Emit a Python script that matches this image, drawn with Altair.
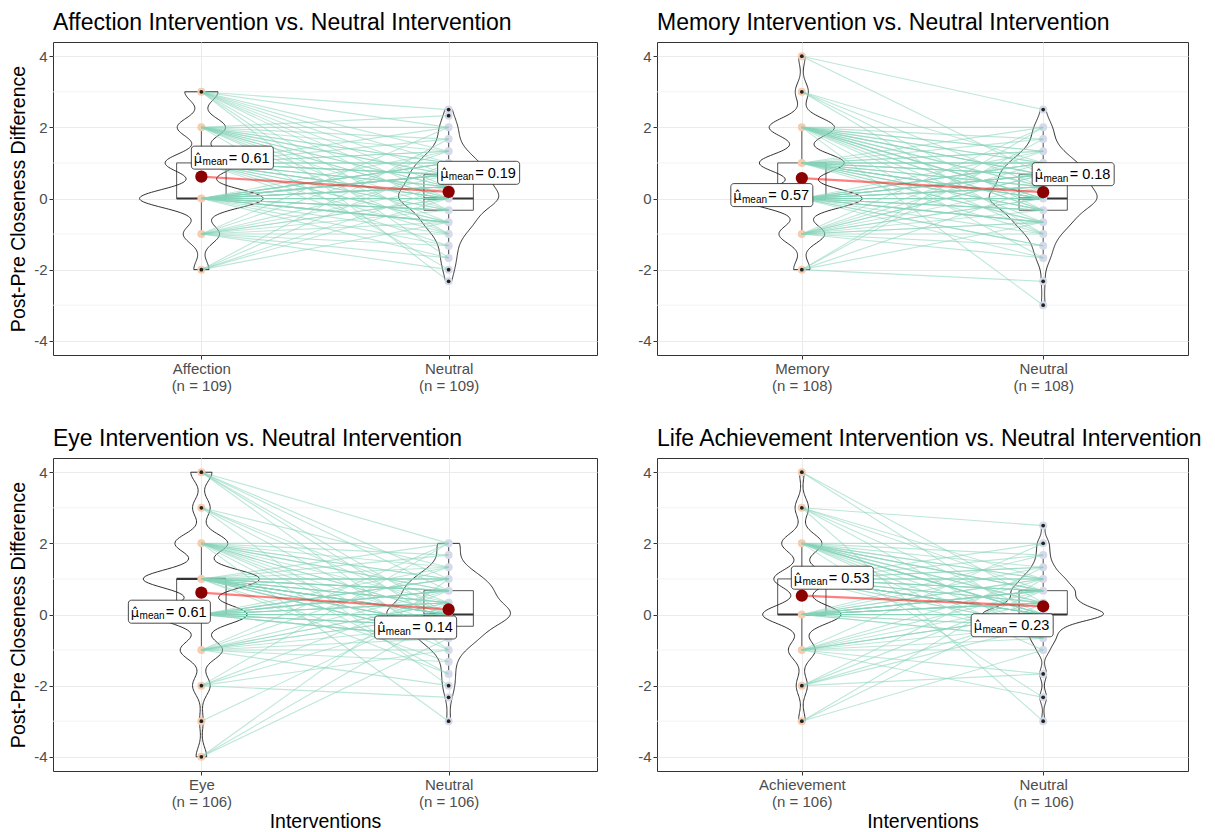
import altair as alt
import pandas as pd

FONT = "Liberation Sans"

titles = [
    "Affection Intervention vs. Neutral Intervention",
    "Memory Intervention vs. Neutral Intervention",
    "Eye Intervention vs. Neutral Intervention",
    "Life Achievement Intervention vs. Neutral Intervention",
]
categories = ["Affection", "Memory", "Eye", "Achievement"]
control_name = "Neutral"
n_subjects = [109, 108, 106, 106]
y_title = "Post-Pre Closeness Difference"
x_title = "Interventions"
y_ticks = [-4, -2, 0, 2, 4]
y_minor = [-3, -1, 1, 3]

# ---- Panel 1: Affection vs Neutral (paired, same subject order) ----
affection = [
    3, 3, 3, 3, 3, 3, 3, 3, 3, 3, 3,
    2, 2, 2, 2, 2, 2, 2, 2, 2, 2, 2, 2, 2, 2, 2, 2,
    1, 1, 1, 1, 1, 1, 1, 1, 1, 1, 1, 1, 1, 1, 1, 1, 1, 1, 1, 1, 1, 1, 1, 1,
    0, 0, 0, 0, 0, 0, 0, 0, 0, 0, 0, 0, 0, 0, 0, 0, 0, 0, 0, 0,
    0, 0, 0, 0, 0, 0, 0, 0, 0, 0, 0, 0, 0, 0, 0, 0, 0, 0, 0, 0, 0,
    -1, -1, -1, -1, -1, -1, -1, -1, -1, -1, -1, -1,
    -2, -2, -2, -2, -2,
]
affection_neutral = [
    2.5, 2, 1.33, 1, 0.67, 0.33, 0, -0.33, -1, -1.67, -2.33,
    2.33, 2, 1.67, 1.33, 1, 1, 0.67, 0.67, 0.33, 0.33, 0, 0, -0.33, -0.67, -1, -2,
    2, 1.67, 1.33, 1.33, 1, 1, 1, 0.67, 0.67, 0.67, 0.67, 0.33, 0.33, 0.33, 0, 0, 0, 0,
    -0.33, -0.33, -0.67, -0.67, -1, -1.33,
    1.33, 1, 1, 1, 1, 0.67, 0.67, 0.67, 0.67, 0.67, 0.67, 0.33, 0.33, 0.33, 0.33, 0.33, 0.33,
    0, 0, 0, 0, 0, 0, 0, 0, 0, 0, 0, -0.33, -0.33, -0.33, -0.33, -0.33,
    -0.67, -0.67, -0.67, -0.67, -0.67, -1, -1.33, -1.67,
    2, 1.33, 0.67, 0.33, 0, 0, -0.33, -0.67, -1, -1.33, -1.67, -2,
    1.67, 1, 0.33, 0, -0.67,
]

# ---- Panel 2: Memory vs Neutral ----
memory = [
    4, 4,
    3, 3, 3, 3,
    2, 2, 2, 2, 2, 2, 2, 2, 2, 2, 2, 2, 2, 2, 2, 2, 2, 2, 2, 2,
    1, 1, 1, 1, 1, 1, 1, 1, 1, 1, 1, 1, 1, 1, 1, 1, 1, 1, 1, 1, 1, 1, 1, 1, 1, 1,
    0, 0, 0, 0, 0, 0, 0, 0, 0, 0, 0, 0, 0, 0, 0, 0, 0, 0, 0, 0,
    0, 0, 0, 0, 0, 0, 0, 0, 0, 0, 0, 0, 0, 0, 0, 0, 0,
    -1, -1, -1, -1, -1, -1, -1, -1, -1, -1, -1, -1, -1, -1,
    -2, -2, -2, -2, -2,
]
memory_neutral = [
    2.5, 0.67,
    1, 0.33, -0.33, -1,
    2, 1.67, 1.33, 1.33, 1, 1, 0.67, 0.67, 0.67, 0.33, 0.33, 0, 0, 0, -0.33, -0.33, -0.67, -1, -1.67, -3,
    2, 1.67, 1.33, 1.33, 1, 1, 1, 1, 0.67, 0.67, 0.67, 0.67, 0.33, 0.33, 0.33, 0, 0, 0, 0, 0,
    -0.33, -0.33, -0.33, -0.67, -0.67, -1,
    1.33, 1, 1, 1, 0.67, 0.67, 0.67, 0.67, 0.67, 0.33, 0.33, 0.33, 0.33, 0.33,
    0, 0, 0, 0, 0, 0, 0, 0, 0, 0, 0, -0.33, -0.33, -0.33, -0.33, -0.67, -0.67, -0.67, -0.67,
    -1, -1.33, -1.33, -1.67,
    2, 1.33, 1, 0.67, 0.67, 0.33, 0, 0, -0.33, -0.67, -0.67, -1, -1.33, -1.67,
    2, 1.67, 0.33, -0.67, -2.33,
]

# ---- Panel 3: Eye vs Neutral ----
eye = [
    4, 4, 4, 4, 4, 4,
    3, 3, 3, 3, 3,
    2, 2, 2, 2, 2, 2, 2, 2, 2, 2, 2, 2, 2, 2, 2,
    1, 1, 1, 1, 1, 1, 1, 1, 1, 1, 1, 1, 1, 1, 1, 1, 1, 1, 1, 1,
    1, 1, 1, 1, 1, 1, 1, 1, 1, 1, 1, 1, 1,
    0, 0, 0, 0, 0, 0, 0, 0, 0, 0, 0, 0, 0, 0, 0, 0, 0, 0, 0, 0, 0, 0, 0, 0, 0, 0,
    -1, -1, -1, -1, -1, -1, -1, -1, -1, -1, -1, -1,
    -2, -2, -2, -2, -2,
    -3,
    -4, -4, -4,
]
eye_neutral = [
    2, 1, 0.67, 0, -0.33, -1,
    1.33, 0.33, 0, -0.67, -2,
    2, 1.67, 1.33, 1, 1, 0.67, 0.67, 0.33, 0, 0, -0.33, -0.67, -1, -1.67, -3,
    2, 1.67, 1.33, 1, 1, 1, 1, 0.67, 0.67, 0.67, 0.67, 0.67, 0.33, 0.33, 0.33, 0.33,
    0, 0, 0, 0, 0, 0, 0, 0, -0.33, -0.33, -0.33, -0.33, -0.67, -0.67, -0.67, -1.33, -1.67,
    1.33, 1, 1, 1, 0.67, 0.67, 0.67, 0.67, 0.33, 0.33, 0.33, 0.33,
    0, 0, 0, 0, 0, 0, 0, -0.33, -0.33, -0.33, -0.33, -0.67, -0.67, -0.67,
    2, 1.33, 0.67, 0.33, 0.33, 0, 0, -0.33, -0.67, -1, -1.33, -2,
    2, 0.67, 0, -1, -2.33,
    0.33,
    1, 0, -0.67,
]

# ---- Panel 4: Life Achievement vs Neutral ----
achievement = [
    4, 4,
    3, 3, 3, 3, 3, 3,
    2, 2, 2, 2, 2, 2, 2, 2, 2, 2, 2, 2, 2, 2, 2, 2, 2, 2,
    1, 1, 1, 1, 1, 1, 1, 1, 1, 1, 1, 1, 1, 1, 1, 1, 1, 1, 1, 1, 1, 1, 1, 1, 1,
    0, 0, 0, 0, 0, 0, 0, 0, 0, 0, 0, 0, 0, 0, 0, 0, 0, 0, 0, 0,
    0, 0, 0, 0, 0, 0, 0, 0, 0, 0, 0, 0, 0, 0, 0,
    -1, -1, -1, -1, -1, -1, -1, -1, -1, -1, -1, -1,
    -2, -2, -2, -2, -2,
    -3, -3, -3,
]
achievement_neutral = [
    0.33, -0.33,
    2.5, 1, 0.67, 0, -0.67, -3,
    2, 1.67, 1.33, 1, 1, 0.67, 0.67, 0.67, 0.33, 0.33, 0, 0, 0, 0, -0.33, -0.67, -1, -2.33,
    2, 1.67, 1.33, 1.33, 1, 1, 1, 0.67, 0.67, 0.67, 0.67, 0.33, 0.33, 0.33,
    0, 0, 0, 0, 0, 0, 0, 0, -0.33, -0.33, -0.67,
    1.67, 1.33, 1, 1, 0.67, 0.67, 0.67, 0.67, 0.67, 0.33, 0.33, 0.33, 0.33, 0.33, 0.33, 0.33,
    0, 0, 0, 0, 0, 0, 0, 0, 0, 0, 0, 0, 0, 0, 0, -0.33, -0.33, -0.67, -0.67,
    2, 1, 0.67, 0.33, 0, 0, 0, -0.33, -0.67, -1, -1.67, -2.33,
    1.33, 0.67, 0, -0.33, -1.67,
    1, 0.33, -1,
]

interventions = [affection, memory, eye, achievement]
neutrals = [affection_neutral, memory_neutral, eye_neutral, achievement_neutral]
for a, b, n in zip(interventions, neutrals, n_subjects):
    assert len(a) == len(b) == n, (len(a), len(b), n)

# label placements (pixel offsets of label centre from its mean point)
label_offsets = [
    [(31, -19), (30, -19)],
    [(-30, 17), (30, -18)],
    [(-32, 19), (-33, 18)],
    [(30.5, -18), (-31, 19)],
]

PEACH = "#F7CBAE"
LAVENDER = "#D6D9EA"
MINT = "#86D4B9"
PLOT_H = 313


def make_panel(k, width, show_y, show_x):
    iv, nv = interventions[k], neutrals[k]
    rows = []
    for i, (a, b) in enumerate(zip(iv, nv)):
        rows.append({"id": i, "grp": 1, "v": a})
        rows.append({"id": i, "grp": 2, "v": b})
    df = pd.DataFrame(rows)
    base = alt.Chart(df)

    cat = categories[k]
    n = n_subjects[k]
    xsc = alt.Scale(domain=[0.4, 2.6], nice=False, zero=False)
    ysc = alt.Scale(domain=[-4.4, 4.4], nice=False, zero=False)
    xaxis_kw = dict(
        values=[1, 2],
        labelExpr=f"datum.value == 1 ? ['{cat}', '(n = {n})'] : ['{control_name}', '(n = {n})']",
        title=x_title if show_x else None,
        titlePadding=3,
        labelPadding=2,
    )
    yaxis_kw = dict(
        values=y_ticks,
        labelExpr="'' + datum.value",
        title=y_title if show_y else None,
        titlePadding=5,
    )

    def X(f):
        return alt.X(f, type="quantitative", scale=xsc, axis=alt.Axis(**xaxis_kw))

    def Y(f):
        return alt.Y(f, type="quantitative", scale=ysc, axis=alt.Axis(**yaxis_kw))

    minor = alt.Chart(pd.DataFrame({"t": y_minor})).mark_rule(
        color="#F0F0F0", strokeWidth=0.8
    ).encode(y=Y("t"))

    # violin (ggplot-style: gaussian KDE, nrd0 bandwidth, trimmed, scale = area, width 0.5)
    violin = (
        base.transform_joinaggregate(
            n="count()", q1="q1(v)", q3="q3(v)", sd="stdev(v)", gmin="min(v)", gmax="max(v)",
            groupby=["grp"],
        )
        .transform_calculate(
            bw="0.9*min(datum.sd, (datum.q3 - datum.q1)/1.34)*pow(datum.n, -0.2)",
            idx="sequence(0, 201)",
        )
        .transform_flatten(["idx"])
        .transform_calculate(
            gy="datum.gmin + (datum.gmax - datum.gmin)*datum.idx/200",
        )
        .transform_calculate(
            kern="exp(-0.5*pow((datum.gy - datum.v)/datum.bw, 2))",
        )
        .transform_aggregate(ks="sum(kern)", groupby=["grp", "idx", "gy", "n", "bw"])
        .transform_calculate(dens="datum.ks/(datum.n*datum.bw*sqrt(2*PI))")
        .transform_joinaggregate(maxd="max(dens)")
        .transform_calculate(
            xl="datum.grp - 0.25*datum.dens/datum.maxd",
            xr="datum.grp + 0.25*datum.dens/datum.maxd",
        )
        .transform_fold(["xl", "xr"], as_=["side", "xv"])
        .transform_calculate(ord="datum.side == 'xl' ? datum.idx : 1000 - datum.idx")
        .mark_line(interpolate="linear-closed", color="#1A1A1A", strokeWidth=0.9)
        .encode(y=Y("gy"), x=X("xv"), detail="grp:N", order="ord:Q")
    )

    # boxplot (Tukey)
    bx = base.transform_joinaggregate(
        q1="q1(v)", q3="q3(v)", med="median(v)", groupby=["grp"]
    ).transform_calculate(
        lo="datum.q1 - 1.5*(datum.q3 - datum.q1)",
        hi="datum.q3 + 1.5*(datum.q3 - datum.q1)",
    )
    inside = bx.transform_filter("datum.v >= datum.lo && datum.v <= datum.hi").transform_aggregate(
        wmin="min(v)", wmax="max(v)", groupby=["grp", "q1", "q3", "med"]
    ).transform_calculate(bl="datum.grp - 0.1", br="datum.grp + 0.1")
    box_rect = inside.mark_rect(
        fill="white", fillOpacity=0.5, stroke="#555555", strokeWidth=1
    ).encode(x=X("bl"), x2="br", y=Y("q1"), y2="q3")
    box_med = inside.mark_rule(color="#333333", strokeWidth=2.2).encode(
        x=X("bl"), x2="br", y=Y("med")
    )
    wh_up = inside.mark_rule(color="#555555", strokeWidth=1).encode(x=X("grp"), y=Y("q3"), y2="wmax")
    wh_lo = inside.mark_rule(color="#555555", strokeWidth=1).encode(x=X("grp"), y=Y("wmin"), y2="q1")
    outliers = bx.transform_filter("datum.v < datum.lo || datum.v > datum.hi").transform_aggregate(
        c="count()", groupby=["grp", "v"]
    ).mark_circle(size=14, color="#222222", opacity=1).encode(x=X("grp"), y=Y("v"))

    points = base.transform_aggregate(c="count()", groupby=["grp", "v"]).mark_circle(
        size=64, opacity=1
    ).encode(
        x=X("grp"), y=Y("v"),
        color=alt.Color("grp:N", scale=alt.Scale(domain=[1, 2], range=[PEACH, LAVENDER]), legend=None),
    )

    lines = base.mark_line(color=MINT, opacity=0.55, strokeWidth=1.1).encode(
        x=X("grp"), y=Y("v"), detail="id:N"
    )

    means = base.transform_aggregate(m="mean(v)", groupby=["grp"])
    mean_path = means.mark_line(color="red", opacity=0.5, strokeWidth=2.2).encode(x=X("grp"), y=Y("m"))
    mean_pts = means.mark_circle(size=150, color="#8B0000", opacity=1).encode(x=X("grp"), y=Y("m"))

    label_layers = []
    for g, (dx, dy) in zip([1, 2], label_offsets[k]):
        lab = means.transform_filter(f"datum.grp == {g}").transform_calculate(
            t="'= ' + format(datum.m, '.2f')"
        )
        L = dx - 41
        label_layers.append(
            lab.mark_rect(
                fill="white", stroke="#1A1A1A", strokeWidth=0.8, cornerRadius=3,
                xOffset=dx - 41, x2Offset=dx + 41, yOffset=dy - 11.5, y2Offset=dy + 11.5,
            ).encode(x=X("grp"), x2="grp", y=Y("m"), y2="m")
        )
        label_layers.append(
            lab.mark_text(text="μ\u0302", font="DejaVu Sans", fontSize=13, align="left",
                          baseline="alphabetic", dx=L + 2.5, dy=dy + 5, color="black"
                          ).encode(x=X("grp"), y=Y("m"))
        )
        label_layers.append(
            lab.mark_text(text="mean", font=FONT, fontSize=10, align="left", baseline="alphabetic",
                          dx=L + 11.2, dy=dy + 7.5, color="black").encode(x=X("grp"), y=Y("m"))
        )
        label_layers.append(
            lab.mark_text(font=FONT, fontSize=14.5, align="left", baseline="alphabetic",
                          dx=L + 37.5, dy=dy + 5, color="black").encode(x=X("grp"), y=Y("m"), text="t:N")
        )

    layers = [minor, box_rect, box_med, wh_up, wh_lo, violin, points, lines, outliers,
              mean_path, mean_pts] + label_layers
    return alt.layer(*layers).properties(
        width=width, height=PLOT_H,
        title=alt.TitleParams(titles[k], anchor="start", frame="group"),
    )


p1 = make_panel(0, 544, True, False)
p2 = make_panel(1, 531, False, False)
p3 = make_panel(2, 544, True, True)
p4 = make_panel(3, 531, False, True)

chart = alt.vconcat(
    alt.hconcat(p1, p2, spacing=39),
    alt.hconcat(p3, p4, spacing=39),
    spacing=33,
).properties(
    padding={"left": 8, "top": 11, "right": 2, "bottom": 2},
    background="white",
).configure_view(
    stroke="#333333", strokeWidth=1
).configure_axis(
    grid=True, gridColor="#EBEBEB", gridWidth=1, domain=False,
    tickColor="#333333", tickSize=4, tickWidth=1,
    labelColor="#4D4D4D", labelFont=FONT, labelFontSize=15, labelLineHeight=17,
    titleFont=FONT, titleFontSize=19.5, titleFontWeight="normal", titleColor="black",
).configure_title(
    font=FONT, fontSize=23, fontWeight="normal", color="black", anchor="start", offset=7,
)

chart.save("out.html", embed_options={"renderer": "svg", "actions": False})
